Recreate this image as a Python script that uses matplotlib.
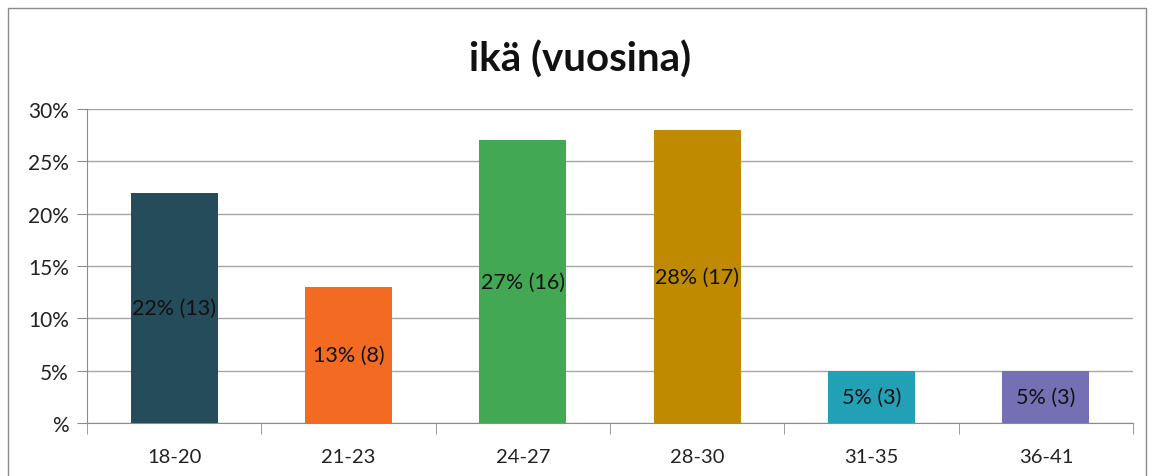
import matplotlib.pyplot as plt
from matplotlib.patches import Rectangle

plt.rcParams['font.family'] = ['Lato', 'DejaVu Sans']

# Data
categories = ["18-20", "21-23", "24-27", "28-30", "31-35", "36-41"]
percent = [22, 13, 27, 28, 5, 5]
counts = [13, 8, 16, 17, 3, 3]
colors = ["#244C5A", "#F36B23", "#43A853", "#C08A00", "#22A0B5", "#7570B3"]
y_ticks = [0, 5, 10, 15, 20, 25, 30]
y_labels = ["%", "5%", "10%", "15%", "20%", "25%", "30%"]

fig = plt.figure(figsize=(11.57, 4.77), dpi=100)
ax = fig.add_axes([87 / 1157, 1 - 424 / 477, (1133 - 87) / 1157, (424 - 110) / 477])

# outer chart border
fig.patches.append(Rectangle((8 / 1157, -0.1), (1146 - 8) / 1157, 1.1 - 9 / 477,
                             transform=fig.transFigure, fill=False,
                             edgecolor="#8c8c8c", linewidth=1))

x = range(len(categories))
bars = ax.bar(x, percent, width=0.5, color=colors, zorder=3)
for b, p, c in zip(bars, percent, counts):
    ax.text(b.get_x() + b.get_width() / 2, p / 2, f"{p}% ({c})",
            ha="center", va="center", fontsize=15.5, color="#111111", zorder=4)

ax.set_xlim(-0.5, len(categories) - 0.5)
ax.set_ylim(0, 30)
ax.set_yticks(y_ticks)
ax.set_yticklabels(y_labels, fontsize=15, color="#222222")
ax.set_xticks(list(x))
ax.set_xticklabels(categories, fontsize=14.5, color="#222222")
ax.set_xticks([i - 0.5 for i in range(len(categories) + 1)], minor=True)
ax.tick_params(axis="x", which="major", length=0, pad=18)
ax.tick_params(axis="x", which="minor", length=8, color="#8c8c8c")
ax.tick_params(axis="y", length=7, color="#8c8c8c", pad=6)
ax.grid(axis="y", color="#a6a6a6", linewidth=1, zorder=0)
for s in ["top", "right"]:
    ax.spines[s].set_visible(False)
for s in ["left", "bottom"]:
    ax.spines[s].set_color("#8c8c8c")

fig.text(0.501, 1 - 60 / 477, "ikä (vuosina)", ha="center", va="center",
         fontsize=29, fontweight="bold", color="#111111")

fig.savefig("out.png", dpi=100)
